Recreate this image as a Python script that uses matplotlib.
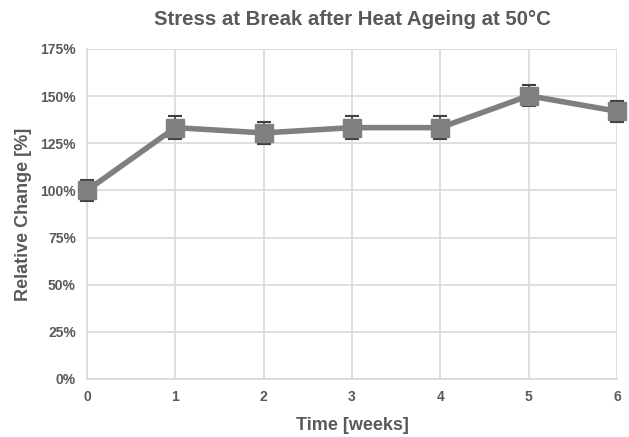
import numpy as np
import matplotlib.pyplot as plt
from matplotlib.ticker import PercentFormatter

plt.rcParams['font.family'] = ['Liberation Sans', 'DejaVu Sans']

weeks = [0, 1, 2, 3, 4, 5, 6]
rel_change = [100, 133.3, 130.5, 133.3, 133.3, 150.2, 142.0]
err = [5.5, 6.0, 6.0, 6.0, 6.0, 5.5, 5.5]

txt = '#595959'
fig = plt.figure(figsize=(6.29, 4.37), dpi=100)
ax = fig.add_axes([87/629, 58/437, 530/629, 330/437])

data_line, caps, bars = ax.errorbar(weeks, rel_change, yerr=err, color='#7f7f7f', lw=4,
                                    marker='s', ms=13, mec='#7f7f7f', mfc='#7f7f7f',
                                    ecolor='#404040', elinewidth=1.2, capsize=5,
                                    capthick=1.5, zorder=3)
for art in [data_line] + list(caps) + list(bars):
    art.set_clip_on(False)

ax.set_xlim(0, 6)
ax.set_ylim(0, 175)
ax.set_xticks(weeks)
ax.set_yticks(np.arange(0, 176, 25))
ax.yaxis.set_major_formatter(PercentFormatter(decimals=0))
ax.grid(True, color='#d9d9d9', lw=1.2)
ax.set_axisbelow(True)
for s in ['top', 'right']:
    ax.spines[s].set_visible(False)
for s in ['left', 'bottom']:
    ax.spines[s].set_color('#d9d9d9')
    ax.spines[s].set_linewidth(1.2)
ax.tick_params(length=0, labelsize=10, labelcolor=txt, pad=8)
for lab in ax.get_xticklabels() + ax.get_yticklabels():
    lab.set_fontweight('bold')

ax.set_xlabel('Time [weeks]', fontsize=13, fontweight='bold', color=txt, labelpad=9)
ax.set_ylabel('Relative Change [%]', fontsize=13, fontweight='bold', color=txt, labelpad=6)
ax.set_title('Stress at Break after Heat Ageing at 50°C', fontsize=14.7, fontweight='bold',
             color=txt, pad=17)

fig.savefig('out.png', dpi=100)
